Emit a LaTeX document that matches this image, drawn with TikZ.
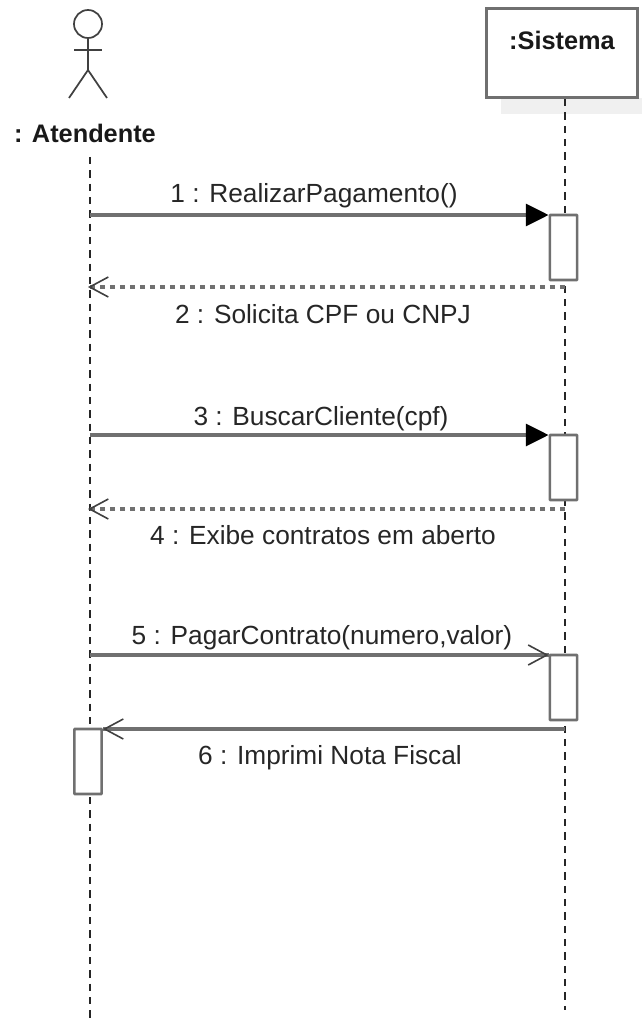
\documentclass[tikz,border=0pt]{standalone}
\usepackage{fontspec}
\setmainfont{Liberation Sans}
\usetikzlibrary{arrows.meta}
\definecolor{linegray}{HTML}{707070}
\tikzset{
  activation/.style={draw=linegray, line width=1.9pt, fill=white, minimum width=20.5pt, minimum height=48.75pt, inner sep=0pt, rounded corners=0.5pt},
  lifeline/.style={draw=black!85, line width=1.3pt, dash pattern=on 5.5pt off 4.5pt},
  message/.style={draw=linegray, line width=2.3pt},
  openmessage/.style={draw=linegray, line width=1.2pt, preaction={draw=linegray, line width=2.3pt, arrows=-}},
  reply/.style={draw=linegray, line width=1.2pt, dash pattern=on 3.75pt off 3.75pt, preaction={draw=linegray, line width=2.3pt, arrows=-, dash pattern=on 3.75pt off 3.75pt}},
  filledtip/.style={-{Triangle[length=17pt,width=16.5pt,color=black]}},
  opentip/.style={-{Straight Barb[length=14pt,width=15pt,color=black!75]}},
  msglabel/.style={font=\fontsize{19.7pt}{22pt}\selectfont, text=black!85, inner sep=0pt, anchor=base},
  namelabel/.style={font=\fontsize{19pt}{22pt}\selectfont\bfseries, text=black!90, inner sep=0pt, anchor=base},
}
\begin{document}
\begin{tikzpicture}[x=0.75pt,y=-0.75pt]
  \useasboundingbox (0,0) rectangle (642,1020);

  % lifeline heads
  \fill[black!6] (501,98) rectangle (642,114);
  \node[draw=linegray, line width=2.2pt, fill=white, minimum width=113pt, minimum height=67pt, inner sep=0pt] (sistema) at (562,53) {};
  \node[namelabel] (sistemaname) at (562,50) {:Sistema};
  \node[draw=black!75, line width=1.3pt, circle, minimum size=21pt, inner sep=0pt] (head) at (88,24) {};
  \coordinate (hip) at (88,70);
  \coordinate (armL) at (74,50);
  \coordinate (armR) at (102,50);
  \coordinate (legL) at (69,98);
  \coordinate (legR) at (107,98);
  \draw[draw=black!75, line width=1.3pt] (head) -- (hip) -- (legL);
  \draw[draw=black!75, line width=1.3pt] (hip) -- (legR);
  \draw[draw=black!75, line width=1.3pt] (armL) -- (armR);
  \node[namelabel] (atendente) at (85,142.5) {: Atendente};

  % lifelines
  \coordinate (atendenteTop) at (90,157);
  \coordinate (atendenteEnd) at (90,1018);
  \coordinate (sistemaEnd) at (565,1010);
  \draw[lifeline] (atendenteTop) -- (atendenteEnd);
  \draw[lifeline] (sistema.south -| sistemaEnd) -- (sistemaEnd);

  % activations
  \node[activation] (act1) at (563.5,247.5) {};
  \node[activation] (act3) at (563.5,467.5) {};
  \node[activation] (act5) at (563.5,687.5) {};
  \node[activation] (act6) at (88,761.5) {};

  % messages
  \coordinate (m1) at (90,215);
  \coordinate (m2a) at (565,287);
  \coordinate (m2b) at (88,287);
  \coordinate (m3) at (90,435);
  \coordinate (m4a) at (565,509);
  \coordinate (m4b) at (88,509);
  \coordinate (m5) at (90,655);
  \coordinate (m6) at (565,729);
  \draw[message, filledtip] (m1) -- (m1 -| act1.west);
  \draw[reply, opentip] (m2a) -- (m2b);
  \draw[message, filledtip] (m3) -- (m3 -| act3.west);
  \draw[reply, opentip] (m4a) -- (m4b);
  \draw[openmessage, opentip] (m5) -- (m5 -| act5.west);
  \draw[openmessage, opentip] (m6) -- (m6 -| act6.east);

  % labels
  \node[msglabel] (l1) at (314,202) {1 : RealizarPagamento()};
  \node[msglabel] (l2) at (323,323) {2 : Solicita CPF ou CNPJ};
  \node[msglabel] (l3) at (321,425) {3 : BuscarCliente(cpf)};
  \node[msglabel] (l4) at (323,544) {4 : Exibe contratos em aberto};
  \node[msglabel] (l5) at (322,644) {5 : PagarContrato(numero,valor)};
  \node[msglabel] (l6) at (330,764) {6 : Imprimi Nota Fiscal};
\end{tikzpicture}
\end{document}
